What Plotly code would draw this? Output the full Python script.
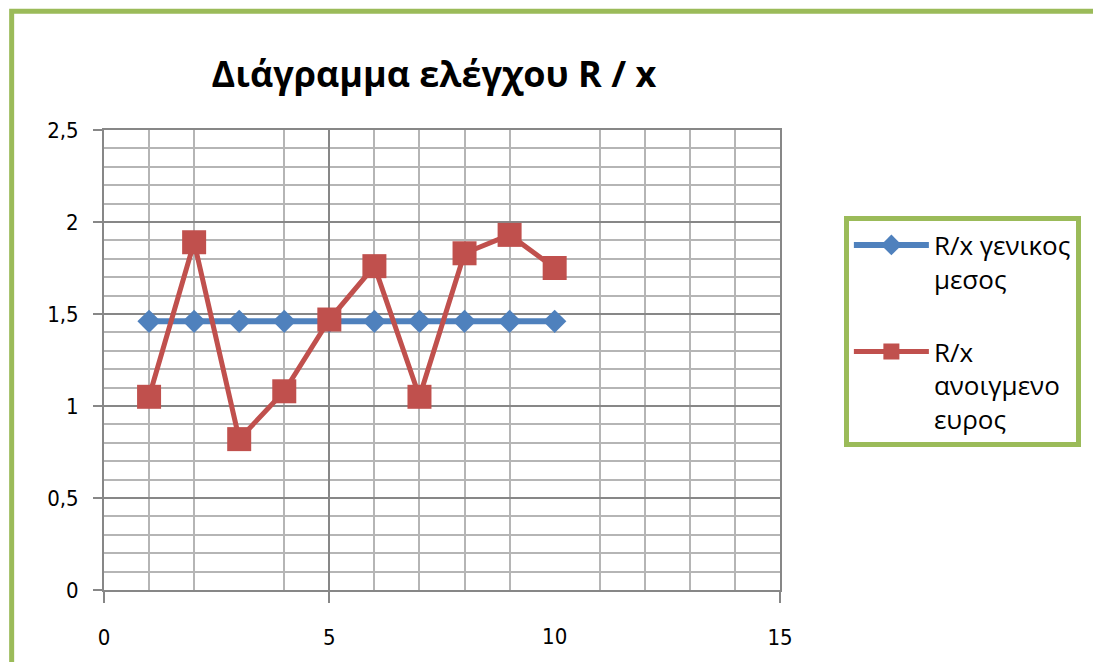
import plotly.graph_objects as go

# Sample number on the horizontal axis
samples = [1, 2, 3, 4, 5, 6, 7, 8, 9, 10]
# Overall mean R/x (constant reference line)
rx_overall_mean = [1.46, 1.46, 1.46, 1.46, 1.46, 1.46, 1.46, 1.46, 1.46, 1.46]
# R/x of the opened range, per sample
rx_open_range = [1.05, 1.89, 0.82, 1.08, 1.47, 1.76, 1.05, 1.83, 1.93, 1.75]

series_names = ["R/x γενικος<br>μεσος", "R/x<br>ανοιγμενο<br>ευρος"]
title_text = "Διάγραμμα ελέγχου R / x"

# x-axis ticks: labelled values and the light vertical grid
x_major_grid = [0, 5, 15]
x_extra_label = [10]
x_minor_grid = [1, 2, 4, 6, 7, 8, 9, 11, 12, 13, 14]

BLUE = "#4F81BD"
RED = "#C0504D"
GREEN = "#9BBB59"
MAJOR = "#878787"
MINOR = "#B5B5B5"
TICK_FONT = dict(family="Liberation Sans Narrow, DejaVu Sans Condensed, Liberation Sans",
                 size=22, color="#000000")

fig = go.Figure()

fig.add_trace(go.Scatter(
    x=samples, y=rx_overall_mean, name=series_names[0],
    mode="lines+markers", legendgroup="a",
    line=dict(color=BLUE, width=6),
    marker=dict(symbol="diamond", size=18, color=BLUE),
))
fig.add_trace(go.Scatter(
    x=samples, y=rx_open_range, name=series_names[1],
    mode="lines+markers", legendgroup="b",
    line=dict(color=RED, width=5),
    marker=dict(symbol="square", size=24, color=RED),
))

# label-only overlay axis for the "10" tick
fig.add_trace(go.Scatter(x=[None], y=[None], xaxis="x2", showlegend=False, hoverinfo="skip"))

fig.update_layout(
    width=1093, height=662, autosize=False,
    margin=dict(l=104, r=312, t=130, b=66),
    paper_bgcolor="white", plot_bgcolor="white",
    separators=", ",
    title=dict(text="<b>" + title_text + "</b>", x=0.397, xanchor="center",
               y=0.888, yanchor="middle",
               font=dict(family="Open Sans, Noto Sans", size=36, color="#000000")),
    xaxis=dict(
        range=[0, 15], tickmode="array", tickvals=x_major_grid,
        showgrid=True, gridcolor=MAJOR, gridwidth=2,
        showline=True, linecolor=MAJOR, linewidth=2, mirror=True,
        ticks="outside", ticklen=11, tickwidth=2, tickcolor=MAJOR,
        ticklabelstandoff=16, tickfont=TICK_FONT, zeroline=False,
        minor=dict(tickmode="array", tickvals=x_minor_grid, showgrid=True,
                   gridcolor=MINOR, gridwidth=1.5, ticks=""),
    ),
    xaxis2=dict(
        range=[0, 15], overlaying="x", anchor="y", side="bottom",
        tickmode="array", tickvals=x_extra_label,
        showgrid=False, showline=False, zeroline=False,
        ticks="outside", ticklen=11, tickwidth=2, tickcolor="rgba(0,0,0,0)",
        ticklabelstandoff=16, tickfont=TICK_FONT,
    ),
    yaxis=dict(
        range=[0, 2.5], dtick=0.5, tick0=0,
        showgrid=True, gridcolor=MAJOR, gridwidth=2,
        showline=True, linecolor=MAJOR, linewidth=2, mirror=True,
        ticks="outside", ticklen=9, tickwidth=2, tickcolor=MAJOR,
        ticklabelstandoff=10, tickfont=TICK_FONT, zeroline=False,
        minor=dict(dtick=0.1, showgrid=True, gridcolor=MINOR, gridwidth=1.5, ticks=""),
    ),
    legend=dict(
        x=1.0945, xanchor="left", y=0.812, yanchor="top",
        bordercolor=GREEN, borderwidth=5, bgcolor="white",
        valign="top", itemwidth=75, tracegroupgap=36,
        font=dict(family="Open Sans, Noto Sans", size=26, color="#000000"),
    ),
    showlegend=True,
)

# chart frame
fig.add_shape(type="rect", xref="paper", yref="paper",
              x0=-0.1366, x1=1.48, y0=-0.17, y1=1.258,
              line=dict(color=GREEN, width=5), fillcolor="rgba(0,0,0,0)", layer="below")

fig.write_html("out.html")
